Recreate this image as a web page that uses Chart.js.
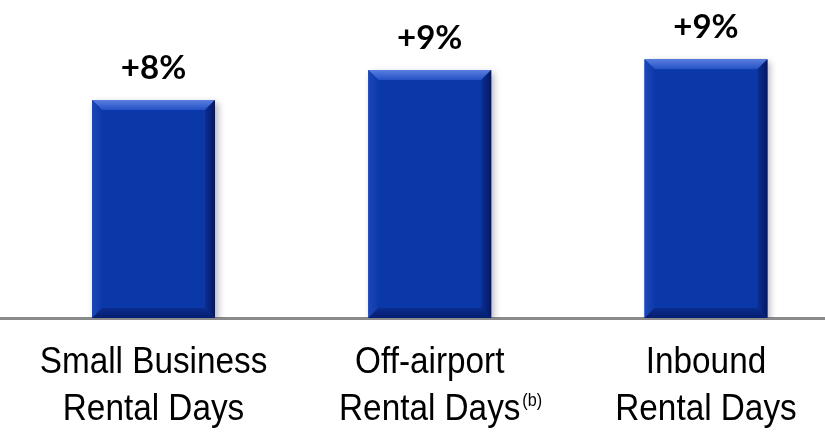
<!DOCTYPE html>
<html>
<head>
<meta charset="utf-8">
<script src="https://cdn.jsdelivr.net/npm/chart.js@4.4.1/dist/chart.umd.min.js"></script>
<style>
  html, body { margin: 0; padding: 0; background: #fff; overflow: hidden; }
  #wrap { width: 825px; height: 432px; position: relative; }
</style>
</head>
<body>
<div id="wrap"><canvas id="grafica"></canvas></div>
<script>
// datos
const categorias = [
  ["Small Business", "Rental Days"],
  ["Off-airport", "Rental Days"],
  ["Inbound", "Rental Days"]
];
const notas = ["", "(b)", ""];
const valores = [8.0, 9.1, 9.5];
const etiquetas = ["+8%", "+9%", "+9%"];
const posiciones = [0, 1, 2];

const fuenteCat = "'Liberation Sans', Arial, sans-serif";

// sombra detras de las barras
const sombraBarras = {
  id: 'sombraBarras',
  beforeDatasetsDraw(chart) {
    const ctx = chart.ctx;
    ctx.save();
    ctx.shadowColor = 'rgba(20, 30, 80, 0.35)';
    ctx.shadowBlur = 7;
    ctx.shadowOffsetX = 3;
    ctx.shadowOffsetY = 3;
  },
  afterDatasetsDraw(chart) {
    chart.ctx.restore();
  }
};

// bisel y etiquetas de cada barra
const biselBarras = {
  id: 'biselBarras',
  afterDatasetsDraw(chart) {
    const ctx = chart.ctx;
    const meta = chart.getDatasetMeta(0);
    const b = 10;
    meta.data.forEach((bar, i) => {
      const l = bar.x - bar.width / 2;
      const r = bar.x + bar.width / 2;
      const t = bar.y;
      const bo = bar.base;
      ctx.save();
      // arriba
      let g = ctx.createLinearGradient(0, t, 0, t + b);
      g.addColorStop(0, '#5a7fe0');
      g.addColorStop(1, '#2451c4');
      ctx.fillStyle = g;
      ctx.beginPath();
      ctx.moveTo(l, t); ctx.lineTo(r, t); ctx.lineTo(r - b, t + b); ctx.lineTo(l + b, t + b);
      ctx.closePath(); ctx.fill();
      // izquierda
      g = ctx.createLinearGradient(l, 0, l + b, 0);
      g.addColorStop(0, '#1c47b8');
      g.addColorStop(1, '#0d3aab');
      ctx.fillStyle = g;
      ctx.beginPath();
      ctx.moveTo(l, t); ctx.lineTo(l + b, t + b); ctx.lineTo(l + b, bo - b); ctx.lineTo(l, bo);
      ctx.closePath(); ctx.fill();
      // derecha
      g = ctx.createLinearGradient(r - b, 0, r, 0);
      g.addColorStop(0, '#0a2f95');
      g.addColorStop(1, '#041766');
      ctx.fillStyle = g;
      ctx.beginPath();
      ctx.moveTo(r, t); ctx.lineTo(r - b, t + b); ctx.lineTo(r - b, bo - b); ctx.lineTo(r, bo);
      ctx.closePath(); ctx.fill();
      // abajo
      g = ctx.createLinearGradient(0, bo - b, 0, bo);
      g.addColorStop(0, '#0b2c8e');
      g.addColorStop(1, '#061d6e');
      ctx.fillStyle = g;
      ctx.beginPath();
      ctx.moveTo(l, bo); ctx.lineTo(l + b, bo - b); ctx.lineTo(r - b, bo - b); ctx.lineTo(r, bo);
      ctx.closePath(); ctx.fill();

      // etiqueta de valor
      ctx.fillStyle = '#000';
      ctx.font = "bold 33px Lato, 'Open Sans', sans-serif";
      ctx.textAlign = 'center';
      ctx.textBaseline = 'alphabetic';
      ctx.fillText(etiquetas[i], bar.x, t - 21);
      ctx.restore();
    });
  },
  afterDraw(chart) {
    // nombres de categoria en letra estrecha
    const ctx = chart.ctx;
    const xs = chart.scales.x;
    const base = chart.chartArea.bottom;
    const estrecho = 0.9;
    ctx.save();
    ctx.fillStyle = '#000';
    ctx.textBaseline = 'alphabetic';
    categorias.forEach((lineas, i) => {
      const px = xs.getPixelForValue(posiciones[i]);
      lineas.forEach((txt, k) => {
        ctx.save();
        ctx.translate(px, base + 55 + k * 47);
        ctx.scale(estrecho, 1);
        ctx.font = "37px " + fuenteCat;
        ctx.textAlign = 'center';
        ctx.fillText(txt, 0, 0);
        if (k === 1 && notas[i]) {
          const w = ctx.measureText(txt).width;
          ctx.font = "18px " + fuenteCat;
          ctx.textAlign = 'left';
          ctx.fillText(notas[i], w / 2 + 2, -14);
        }
        ctx.restore();
      });
    });
    ctx.restore();
  }
};

const ctx = document.getElementById("grafica").getContext("2d");
new Chart(ctx, {
  type: 'bar',
  data: {
    datasets: [{
      data: posiciones.map((p, i) => ({ x: p, y: valores[i] })),
      backgroundColor: '#0b38a8',
      borderWidth: 0,
      categoryPercentage: 1,
      barPercentage: 0.445
    }]
  },
  options: {
    responsive: true,
    maintainAspectRatio: false,
    animation: false,
    layout: { padding: 0 },
    plugins: { legend: { display: false }, tooltip: { enabled: false } },
    scales: {
      x: {
        type: 'linear',
        offset: false,
        min: -0.5557,
        max: 2.4308,
        grid: { display: false, drawTicks: false },
        border: { display: true, color: '#8a8a8a', width: 3 },
        afterBuildTicks: (scale) => { scale.ticks = posiciones.map(v => ({ value: v })); },
        afterFit: (scale) => { scale.height = 114; },
        ticks: { display: false }
      },
      y: {
        display: false,
        min: 0,
        max: 11.67
      }
    }
  },
  plugins: [sombraBarras, biselBarras]
});
</script>
</body>
</html>
